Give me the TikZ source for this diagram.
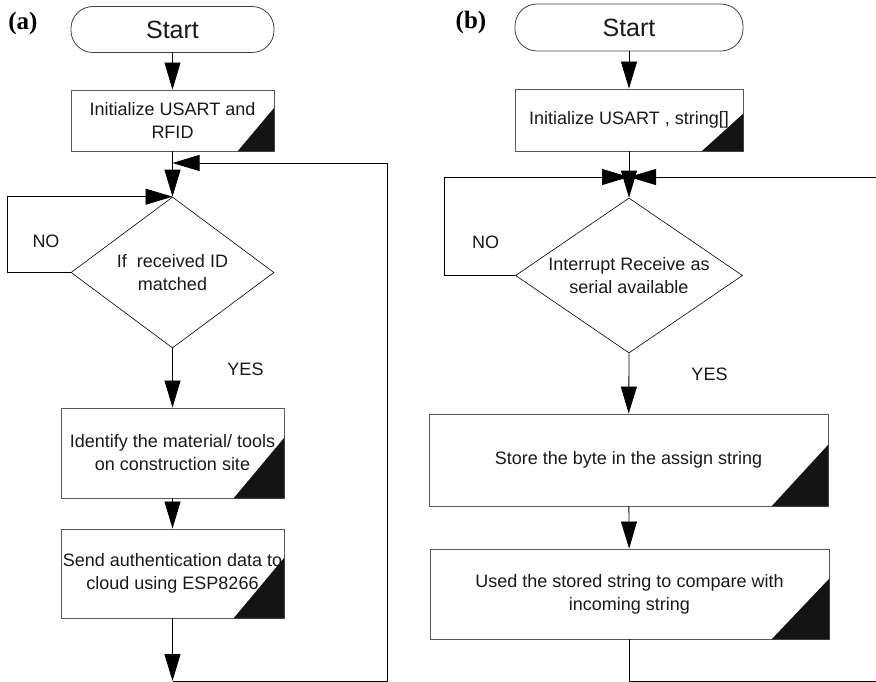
\documentclass[tikz,border=0pt]{standalone}
\usepackage{fontspec}
\setmainfont{Liberation Sans}
\newfontfamily\tagfont{Liberation Serif}
\usetikzlibrary{arrows.meta,shapes.geometric}

\begin{document}
\begin{tikzpicture}[x=1pt,y=-1pt,
  every node/.style={font=\fontsize{18}{23}\selectfont, text=black!90},
  wire/.style={draw=black, line width=0.8pt},
  arr/.style={wire, -{Triangle[length=27pt,width=16pt]}},
  terminal/.style={draw=black!75, line width=0.8pt, rounded corners=22pt,
    minimum height=46pt, inner sep=0pt, font=\fontsize{25}{30}\selectfont},
  process/.style={draw=black!65, line width=0.9pt, inner sep=0pt, align=center},
  decision/.style={diamond, draw=black, line width=0.6pt, inner sep=0pt, align=center},
  corner/.style={fill=black!92},
  tag/.style={font=\tagfont\bfseries\fontsize{25}{28}\selectfont, text=black, inner sep=0pt},
  lbl/.style={inner sep=0pt},
]
\useasboundingbox (0,0) rectangle (876,682);
\clip (0,0) rectangle (876,682);

% ---------------- (a) RFID reader flow ----------------
\node[tag] (tagA) at (23,23) {(a)};
\node[terminal, minimum width=203pt] (startA) at (172.5,29.5) {Start};
\node[process, minimum width=203pt, minimum height=61pt] (boxA1) at (172.5,120.5)
  {Initialize USART and\\RFID};
\node[decision, aspect=1.344, minimum width=203pt, minimum height=151pt] (decA) at (172.5,272.5)
  {If~~received ID\\matched};
\node[process, minimum width=223pt, minimum height=90pt] (boxA2) at (172.5,453)
  {Identify the material/ tools\\on construction site};
\node[process, minimum width=223pt, minimum height=89pt] (boxA3) at (172.5,573.5)
  {Send authentication data to\\cloud using ESP8266};

\fill[corner] (boxA1.south east) -- ++(-37pt,0pt) -- ++(37pt,44pt) -- cycle;
\fill[corner] (boxA2.south east) -- ++(-51pt,0pt) -- ++(51pt,61pt) -- cycle;
\fill[corner] (boxA3.south east) -- ++(-51pt,0pt) -- ++(51pt,61pt) -- cycle;

\node[lbl] (noA) at (46,241.5) {NO};
\node[lbl] (yesA) at (245.5,369.5) {YES};

\coordinate (jA) at (172.5,163);
\coordinate (noA1) at (7,272.5);
\coordinate (botA) at (172.5,681);
\coordinate (retA) at (387,163);

\draw[arr] (startA) -- (boxA1);
\draw[arr] (boxA1) -- (decA.north);
\draw[arr] (decA.west) -- (noA1) |- (decA.north);
\draw[arr] (decA.south) -- (boxA2);
\draw[arr] (boxA2) -- (boxA3);
\draw[arr] (boxA3) -- (botA);
\draw[arr] (botA) -| (retA) -- (jA);

% ---------------- (b) serial receive flow ----------------
\node[tag] (tagB) at (471,22.5) {(b)};
\node[terminal, minimum width=228pt, minimum height=47pt] (startB) at (629,27.5) {Start};
\node[process, minimum width=228pt, minimum height=62pt] (boxB1) at (629,120)
  {Initialize USART , string[]};
\node[decision, aspect=1.465, minimum width=227pt, minimum height=155pt] (decB) at (629,275.5)
  {Interrupt Receive as\\serial available};
\node[process, minimum width=399pt, minimum height=92pt] (boxB2) at (628.5,460)
  {Store the byte in the assign string};
\node[process, minimum width=399pt, minimum height=90pt] (boxB3) at (629.5,594)
  {Used the stored string to compare with\\incoming string};

\fill[corner] (boxB1.south east) -- ++(-42pt,0pt) -- ++(42pt,38pt) -- cycle;
\fill[corner] (boxB2.south east) -- ++(-57pt,0pt) -- ++(57pt,62pt) -- cycle;
\fill[corner] (boxB3.south east) -- ++(-58pt,0pt) -- ++(58pt,61pt) -- cycle;

\node[lbl] (noB) at (485.5,242) {NO};
\node[lbl] (yesB) at (709.5,374) {YES};

\coordinate (jB) at (629,177);
\coordinate (noB1) at (444,275.5);
\coordinate (botB) at (884,681);
\coordinate (retB) at (884,177);

\draw[arr] (startB) -- (boxB1);
\draw[arr] (boxB1) -- (decB.north);
\draw[arr] (decB.west) -- (noB1) |- (jB);
\draw[arr] (decB.south) -- (boxB2);
\draw[arr] (boxB2) -- (boxB3);
\draw[arr] (boxB3.south) |- (botB) -- (retB) -- (jB);
\end{tikzpicture}
\end{document}
